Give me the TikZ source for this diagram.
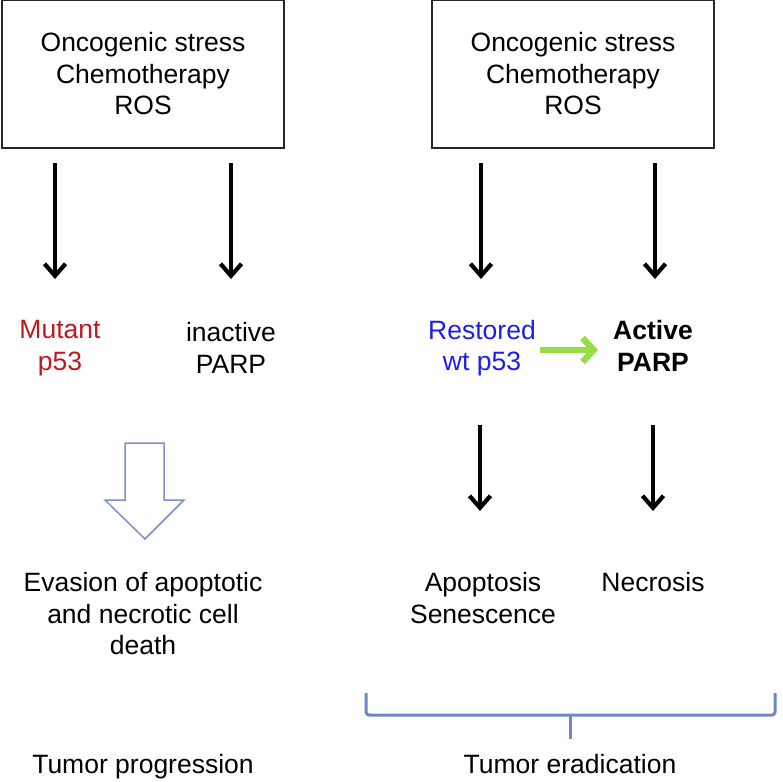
\documentclass[tikz,border=0pt]{standalone}
\usepackage{fontspec}
\setmainfont{Liberation Sans}
\usetikzlibrary{arrows.meta}
\definecolor{mutred}{RGB}{190,25,30}
\definecolor{resblue}{RGB}{30,30,235}
\definecolor{argreen}{RGB}{150,222,70}
\definecolor{hollow}{RGB}{125,145,195}
\definecolor{bracec}{RGB}{110,135,200}
\begin{document}
\begin{tikzpicture}[x=1pt,y=-1pt,
  lbl/.style={inner sep=0pt,align=center,font=\fontsize{26.5}{31.5}\selectfont},
  stressbox/.style={draw=black!85,line width=1.5pt,minimum width=282pt,minimum height=148pt,inner sep=0pt},
  arr/.style={line width=4.2pt,-{Straight Barb[length=12pt,width=21pt]}},
  garr/.style={draw=argreen,line width=6.5pt,-{Straight Barb[length=11pt,width=24pt]}}]
\useasboundingbox (0,0) rectangle (783,781);
\fill[white] (0,0) rectangle (783,781);
% boxes
\node[stressbox] (boxL) at (143,74) {};
\node[stressbox] (boxR) at (573,74) {};
\node[lbl] (txtL) at (143,74) {Oncogenic stress\\Chemotherapy\\ROS};
\node[lbl] (txtR) at (573,74) {Oncogenic stress\\Chemotherapy\\ROS};
% second row
\node[lbl,text=mutred] (mut) at (60,348) {Mutant\\p53};
\node[lbl] (inact) at (231,348) {inactive\\PARP};
\node[lbl,text=resblue] (rest) at (482,348) {Restored\\wt p53};
\node[lbl,font=\fontsize{26.5}{31.5}\selectfont\bfseries] (act) at (653,346) {Active\\PARP};
% third row
\node[lbl] (evas) at (143,614) {Evasion of apoptotic\\and necrotic cell\\death};
\node[lbl] (apop) at (483,598) {Apoptosis\\Senescence};
\node[lbl] (necr) at (653,582) {Necrosis};
% bottom
\node[lbl] (tprog) at (143,767) {Tumor progression};
\node[lbl] (terad) at (570,764) {Tumor eradication};
% arrow coordinates
\coordinate (a1s) at (55,163);  \coordinate (a1e) at (55,279);
\coordinate (a2s) at (231,163); \coordinate (a2e) at (231,279);
\coordinate (a3s) at (481,163); \coordinate (a3e) at (481,279);
\coordinate (a4s) at (655,163); \coordinate (a4e) at (655,279);
\coordinate (a5s) at (480,425); \coordinate (a5e) at (480,511);
\coordinate (a6s) at (653,425); \coordinate (a6e) at (653,511);
\draw[arr] (a1s) -- (a1e);
\draw[arr] (a2s) -- (a2e);
\draw[arr] (a3s) -- (a3e);
\draw[arr] (a4s) -- (a4e);
\draw[arr] (a5s) -- (a5e);
\draw[arr] (a6s) -- (a6e);
% green arrow
\coordinate (gs) at (540,350); \coordinate (ge) at (598,350);
\draw[garr] (gs) -- (ge);
% hollow arrow
\draw[hollow,line width=1.5pt,line join=miter,fill=white]
  (125,443) -- (164,443) -- (164,500) -- (184,500) -- (145,539)
  -- (105,500) -- (125,500) -- cycle;
% brace
\draw[bracec,line width=3pt,rounded corners=3pt]
  (366,693) -- (366,715) -- (775,715) -- (775,693);
\draw[bracec,line width=3pt] (570,714) -- (570,739);
\end{tikzpicture}
\end{document}
